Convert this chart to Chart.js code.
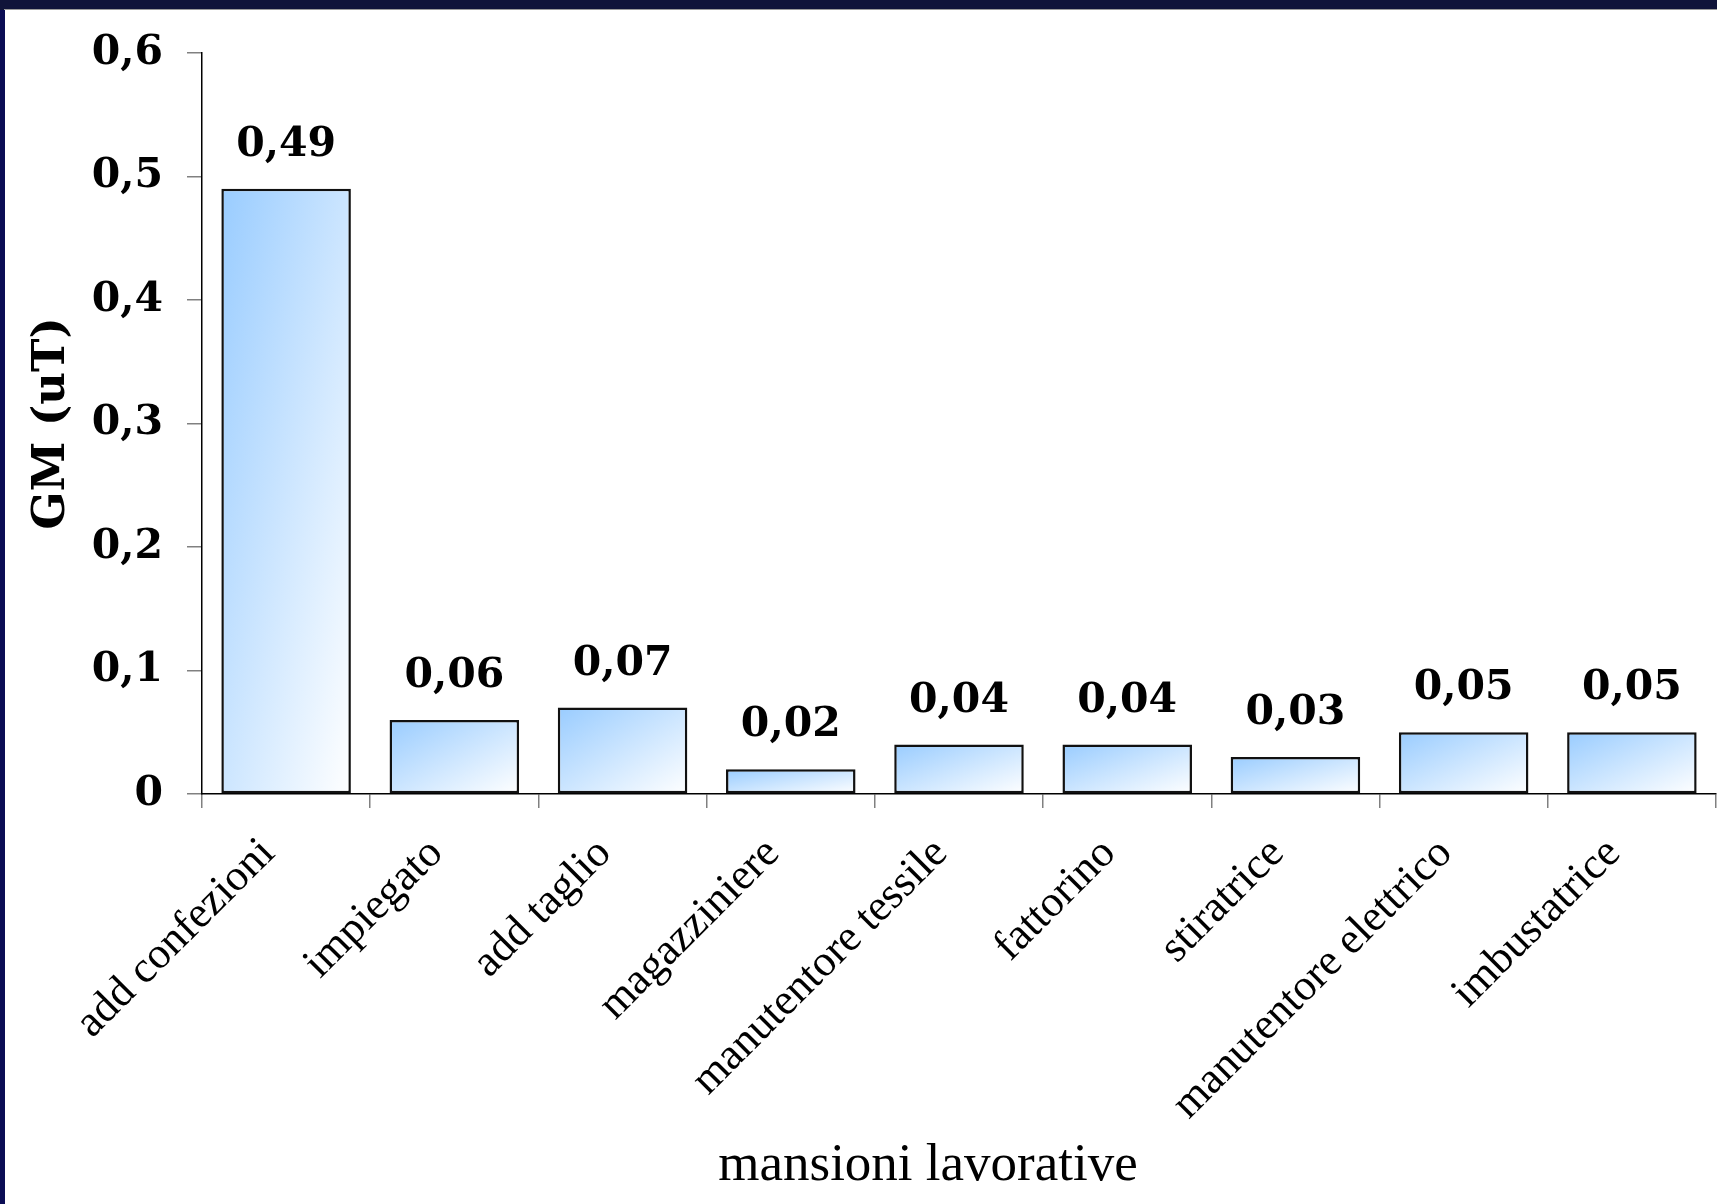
<!DOCTYPE html>
<html>
<head>
<meta charset="utf-8">
<title>GM per mansione</title>
<script src="https://cdn.jsdelivr.net/npm/chart.js@4.4.0/dist/chart.umd.min.js"></script>
<style>
  html, body { margin: 0; padding: 0; }
  body { width: 1717px; height: 1204px; background: #10143a; overflow: hidden; position: relative; }
  #bordoSx { position: absolute; left: 0; top: 10px; width: 5px; height: 1194px; background: #0b0d55; }
  #linea { position: absolute; left: 4px; top: 9px; width: 1713px; height: 1px; background: #9a9a9a; }
  #pannello { position: absolute; left: 5px; top: 10px; width: 1712px; height: 1194px; background: #fff; }
  canvas { display: block; }
</style>
</head>
<body>
<div id="bordoSx"></div>
<div id="linea"></div>
<div id="pannello"><canvas id="chartGM" width="1712" height="1194"></canvas></div>
<script>
// ── dati del grafico ──
const categorie = ['add confezioni', 'impiegato', 'add taglio', 'magazziniere', 'manutentore tessile',
  'fattorino', 'stiratrice', 'manutentore elettrico', 'imbustatrice'];
const valoriGM = [0.49, 0.06, 0.07, 0.02, 0.04, 0.04, 0.03, 0.05, 0.05];
const tickY = [0, 0.1, 0.2, 0.3, 0.4, 0.5, 0.6];

const virgola = v => String(v).replace('.', ',');
const larghezzaBarra = 0.77;

// Sfumatura diagonale azzurro -> bianco, come nel grafico originale
function sfumatura(c) {
  const chart = c.chart;
  if (!chart.chartArea || c.type !== 'data') return '#99ccff';
  const sx = chart.scales.x, sy = chart.scales.y;
  const w = sx.width / categorie.length * larghezzaBarra;
  const x0 = sx.getPixelForValue(c.dataIndex) - w / 2;
  const y0 = sy.getPixelForValue(c.raw);
  const h = sy.getPixelForValue(0) - y0;
  if (!isFinite(x0) || !isFinite(y0) || h <= 0) return '#99ccff';
  const d = w * w + h * h;
  const g = chart.ctx.createLinearGradient(x0, y0, x0 + 2 * w * h * h / d, y0 + 2 * w * w * h / d);
  g.addColorStop(0, '#99ccff');
  g.addColorStop(1, '#ffffff');
  return g;
}

// Valori sopra le barre
const etichetteValori = {
  id: 'etichetteValori',
  afterDatasetsDraw(chart) {
    const ctx = chart.ctx;
    ctx.save();
    ctx.font = 'bold 41px "DejaVu Serif"';
    ctx.fillStyle = '#000';
    ctx.textAlign = 'center';
    ctx.textBaseline = 'alphabetic';
    chart.getDatasetMeta(0).data.forEach((bar, i) => {
      ctx.fillText(virgola(valoriGM[i]), bar.x, bar.y - 33);
    });
    ctx.restore();
  }
};

// Titolo asse X (un po' a sinistra del centro, come nell'originale)
const titoloX = {
  id: 'titoloX',
  afterDraw(chart) {
    const { ctx, chartArea } = chart;
    ctx.save();
    ctx.font = '53px "Liberation Serif"';
    ctx.fillStyle = '#000';
    ctx.textAlign = 'center';
    ctx.textBaseline = 'alphabetic';
    ctx.fillText('mansioni lavorative', (chartArea.left + chartArea.right) / 2 - 31, chart.height - 24);
    ctx.restore();
  }
};

new Chart(document.getElementById('chartGM'), {
  type: 'bar',
  data: {
    labels: categorie,
    datasets: [{
      data: valoriGM,
      backgroundColor: sfumatura,
      borderColor: '#111',
      borderWidth: 2.5,
      borderSkipped: false,
      barPercentage: larghezzaBarra,
      categoryPercentage: 1
    }]
  },
  options: {
    responsive: false,
    animation: false,
    devicePixelRatio: 1,
    layout: { padding: { top: 43, right: 1, left: 0, bottom: 0 } },
    plugins: {
      legend: { display: false },
      tooltip: { enabled: false }
    },
    scales: {
      x: {
        offset: true,
        afterFit: s => { s.height = 410; },
        border: { display: true, color: '#000', width: 1.5 },
        grid: { offset: true, drawOnChartArea: false, tickLength: 14, color: '#808080', lineWidth: 1.5 },
        ticks: {
          autoSkip: false, maxRotation: 45, minRotation: 45, color: '#000', padding: 20, labelOffset: -18,
          font: { family: 'Liberation Serif', size: 44 }
        }
      },
      y: {
        min: 0,
        max: 0.6,
        afterBuildTicks: s => { s.ticks = tickY.map(v => ({ value: v })); },
        afterFit: s => { s.width = 197; s.paddingTop = 0; s.paddingBottom = 0; },
        border: { display: true, color: '#000', width: 1.5 },
        grid: { drawOnChartArea: false, tickLength: 15, color: '#808080', lineWidth: 1.5 },
        ticks: {
          color: '#000', padding: 24,
          font: { family: 'DejaVu Serif', size: 41, weight: 'bold' },
          callback: v => virgola(v)
        },
        title: {
          display: true, text: 'GM (uT)', color: '#000',
          font: { family: 'DejaVu Serif', size: 45, weight: 'bold' },
          padding: { top: 20, bottom: 0 }
        }
      }
    }
  },
  plugins: [etichetteValori, titoloX]
});
</script>
</body>
</html>
